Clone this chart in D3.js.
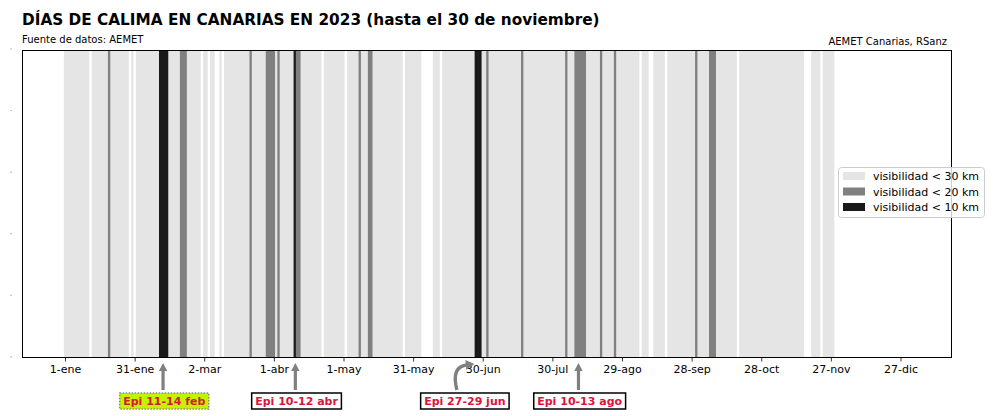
<!DOCTYPE html>
<html><head><meta charset="utf-8">
<script src="https://cdn.jsdelivr.net/npm/d3@7"></script>
<style>body{margin:0;background:#fff}svg{display:block;font-family:"DejaVu Sans",sans-serif}</style>
</head><body>
<script>
// ---------- DATA ----------
const titleText = "DÍAS DE CALIMA EN CANARIAS EN 2023 (hasta el 30 de noviembre)";
const sourceText = "Fuente de datos: AEMET";
const authorText = "AEMET Canarias, RSanz";
const legendLabels = ["visibilidad < 30 km", "visibilidad < 20 km", "visibilidad < 10 km"];
// days (MM-DD, 2023) with visibility < 30 km, as inclusive ranges
const vis30Ranges = [["01-01","01-11"],["01-13","01-28"],["01-30","01-30"],["02-01","02-28"],
  ["03-02","03-03"],["03-05","03-06"],["03-09","03-09"],["03-11","04-21"],["04-23","05-01"],
  ["05-03","05-26"],["05-28","06-03"],["06-09","06-11"],["06-13","09-05"],["09-07","09-09"],
  ["09-12","09-16"],["09-18","10-17"],["10-19","11-15"],["11-19","11-22"],["11-24","11-28"]];
// days with visibility < 20 km
const vis20Days = ["01-20","02-20","02-21","02-22","03-22","03-29","03-30","03-31","04-01","04-03",
  "04-11","04-12","05-08","05-12","05-13","07-02","07-17","08-05","08-09","08-10","08-11","08-12",
  "08-13","08-20","08-26","09-30","10-06","10-07","10-08"];
// days with visibility < 10 km
const vis10Days = ["02-11","02-12","02-13","02-14","04-10","06-27","06-28","06-29"];
// x ticks: every 30 days from 1 Jan
const tickOffsets = [0,30,60,90,120,150,180,210,240,270,300,330,360];
const tickLabels = ["1-ene","31-ene","2-mar","1-abr","1-may","31-may","30-jun","30-jul","29-ago","28-sep","28-oct","27-nov","27-dic"];
const yTicks = [0,0.2,0.4,0.6,0.8,1.0];
// episodes annotated below the axis (point = date the arrow points at)
const episodes = [
  {label:"Epi 11-14 feb", point:"02-12", style:"hl"},
  {label:"Epi 10-12 abr", point:"04-10", style:"box"},
  {label:"Epi 27-29 jun", point:"06-27", style:"curve"},
  {label:"Epi 10-13 ago", point:"08-10", style:"box"}
];

// ---------- HELPERS ----------
const DAY = 864e5;
const d2023 = s => new Date(Date.UTC(2023, +s.slice(0,2)-1, +s.slice(3,5)));
const jan1 = Date.UTC(2023,0,1);
function expand(ranges){
  const out=[];
  ranges.forEach(([a,b])=>{ for(let t=+d2023(a); t<=+d2023(b); t+=DAY) out.push(new Date(t)); });
  return out;
}
// group consecutive days into runs [start,end]
function runs(days){
  const s = days.map(d=>+d).sort((a,b)=>a-b);
  const out=[];
  s.forEach(t=>{
    const last = out[out.length-1];
    if(last && t - last[1] <= DAY + 1000) last[1]=t; else out.push([t,t]);
  });
  return out;
}

// ---------- LAYOUT ----------
const W=994, H=416;
const m = {left:22, right:952, top:50, bottom:358};
const colors = ["#e5e5e5","#808080","#1a1a1a"];

const svg = d3.select("body").append("svg").attr("width",W).attr("height",H);

const x = d3.scaleUtc()
  .domain([new Date(jan1 - 18.53*DAY), new Date(jan1 + 382.2*DAY)])
  .range([m.left, m.right]);
const y = d3.scaleLinear().domain([0,1]).range([m.bottom, m.top]);

const layers = [expand(vis30Ranges), vis20Days.map(d2023), vis10Days.map(d2023)];
layers.forEach((days,i)=>{
  svg.append("g").selectAll("rect").data(runs(days)).join("rect")
    .attr("x", r=>x(new Date(r[0] - DAY/2)))
    .attr("width", r=>x(new Date(r[1] + DAY/2)) - x(new Date(r[0] - DAY/2)))
    .attr("y", y(1)).attr("height", y(0)-y(1))
    .attr("fill", colors[i]);
});

// frame
svg.append("rect").attr("x",m.left+0.5).attr("y",m.top+0.5)
  .attr("width",m.right-m.left-1).attr("height",m.bottom-m.top-1)
  .attr("fill","none").attr("stroke","#000").attr("stroke-width",1);

// x axis
const tickDates = tickOffsets.map(o=>new Date(jan1 + o*DAY));
const xAxis = d3.axisBottom(x).tickValues(tickDates)
  .tickFormat((d,i)=>tickLabels[i]).tickSize(3.5).tickPadding(3.5);
const gx = svg.append("g").attr("transform",`translate(0,${m.bottom})`).call(xAxis);
gx.select(".domain").remove();
gx.selectAll("text").attr("font-size",11).attr("font-family","DejaVu Sans").attr("fill","#000");
gx.selectAll("line").attr("stroke","#000").attr("stroke-width",0.8);

// y tick labels (tiny dots)
svg.append("g").selectAll("circle").data(yTicks).join("circle")
  .attr("cx",11).attr("cy",d=>y(d)-1).attr("r",0.7).attr("fill","#999");

// titles
svg.append("text").attr("x",22).attr("y",25).attr("font-size",15.3).attr("font-weight","bold")
  .text(titleText);
svg.append("text").attr("x",22).attr("y",43).attr("font-size",10).text(sourceText);
svg.append("text").attr("x",947).attr("y",45).attr("font-size",10).attr("text-anchor","end").text(authorText);

// legend
const lg = svg.append("g");
lg.append("rect").attr("x",838.5).attr("y",167.5).attr("width",146).attr("height",50).attr("rx",3)
  .attr("fill","#fff").attr("fill-opacity",0.8).attr("stroke","#ccc").attr("stroke-width",1);
legendLabels.forEach((t,i)=>{
  lg.append("rect").attr("x",843).attr("y",172+i*15.5).attr("width",22).attr("height",8).attr("fill",colors[i]);
  lg.append("text").attr("x",873).attr("y",180+i*15.5).attr("font-size",11).text(t);
});

// annotations
const boxTop = 393, boxH = 16, arrowColor = "#808080";
function straightArrow(g, xx, y1, y2){
  const sw=1.6, hw=4.2, hl=8;
  const p = `M${xx-sw},${y1} L${xx-sw},${y2+hl} L${xx-hw},${y2+hl} L${xx},${y2} L${xx+hw},${y2+hl} L${xx+sw},${y2+hl} L${xx+sw},${y1} Z`;
  g.append("path").attr("d",p).attr("fill",arrowColor);
}
episodes.forEach(ep=>{
  const cx = x(new Date(+d2023(ep.point) + DAY/4));
  const g = svg.append("g");
  const txt = g.append("text").attr("font-size",11).attr("font-weight","bold").attr("fill","#dc143c")
    .attr("text-anchor","middle").text(ep.label);
  let bx = cx + 1.2;
  if(ep.style==="curve") bx = cx - 11.5;
  txt.attr("x",bx).attr("y",boxTop+boxH/2+4);
  const w = txt.node().getComputedTextLength()+7;
  const rect = g.insert("rect","text").attr("x",bx-w/2).attr("y",boxTop).attr("width",w).attr("height",boxH);
  if(ep.style==="hl"){
    rect.attr("fill","#c4f200").attr("stroke","#888").attr("stroke-width",1.5).attr("stroke-dasharray","1.5,1.5");
  } else {
    rect.attr("fill","#fff").attr("stroke","#000").attr("stroke-width",1.5);
  }
  if(ep.style==="curve"){
    const x0 = bx-8, y0 = boxTop-3, x1 = cx-2, y1 = 364;
    g.append("path").attr("d",`M${x0},${y0} Q${x0-6},${y1+2} ${x1-7},${y1+1}`)
      .attr("fill","none").attr("stroke",arrowColor).attr("stroke-width",3.4);
    g.append("path").attr("d",`M${x1},${y1} L${x1-9},${y1-4} L${x1-8},${y1+6} Z`).attr("fill",arrowColor);
  } else {
    straightArrow(g, cx, boxTop-3, 363);
  }
});
</script>
</body></html>
